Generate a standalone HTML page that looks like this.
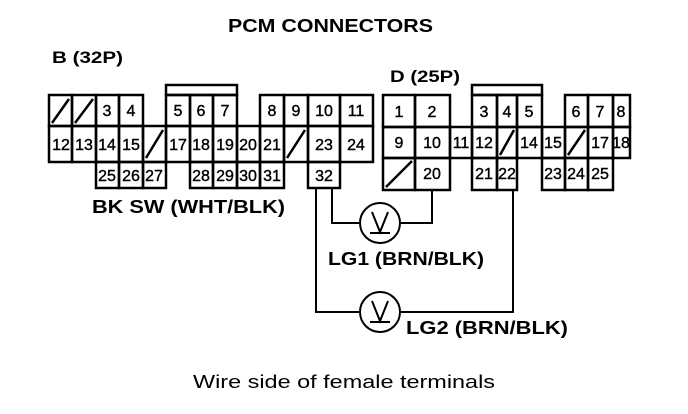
<!DOCTYPE html>
<html><head><meta charset="utf-8"><style>
html,body{margin:0;padding:0;background:#fff;}
svg{display:block;}
text{font-family:"Liberation Sans",Arial,sans-serif;fill:#000;}
.n{font-size:16px;text-anchor:middle;stroke:#000;stroke-width:0.4;}
.b{font-weight:bold;}
</style></head><body>
<svg width="688" height="414" viewBox="0 0 688 414" xmlns="http://www.w3.org/2000/svg">
<g fill="none" stroke="#000" stroke-width="2.5">
<rect x="49" y="95" width="23" height="31"/><rect x="72" y="95" width="24" height="31"/>
<rect x="96" y="95" width="23" height="31"/><rect x="119" y="95" width="24" height="31"/>
<rect x="166" y="85" width="71" height="10"/>
<rect x="166" y="95" width="24" height="31"/><rect x="190" y="95" width="23" height="31"/><rect x="213" y="95" width="24" height="31"/>
<rect x="260" y="95" width="24" height="31"/><rect x="284" y="95" width="24" height="31"/><rect x="308" y="95" width="32" height="31"/><rect x="340" y="95" width="33" height="31"/>
<rect x="49" y="126" width="23" height="36"/><rect x="72" y="126" width="24" height="36"/><rect x="96" y="126" width="23" height="36"/><rect x="119" y="126" width="24" height="36"/><rect x="143" y="126" width="23" height="36"/><rect x="166" y="126" width="24" height="36"/><rect x="190" y="126" width="23" height="36"/><rect x="213" y="126" width="24" height="36"/><rect x="237" y="126" width="23" height="36"/><rect x="260" y="126" width="24" height="36"/><rect x="284" y="126" width="24" height="36"/><rect x="308" y="126" width="32" height="36"/><rect x="340" y="126" width="33" height="36"/>
<rect x="96" y="162" width="23" height="26"/><rect x="119" y="162" width="24" height="26"/><rect x="143" y="162" width="23" height="26"/>
<rect x="190" y="162" width="23" height="26"/><rect x="213" y="162" width="24" height="26"/><rect x="237" y="162" width="23" height="26"/><rect x="260" y="162" width="24" height="26"/>
<rect x="308" y="162" width="32" height="26"/>
<line x1="52" y1="123" x2="69" y2="99"/><line x1="75" y1="123" x2="93" y2="99"/>
<line x1="146" y1="158" x2="163" y2="130"/><line x1="287" y1="158" x2="305" y2="130"/>
<rect x="383" y="95" width="32" height="32"/><rect x="415" y="95" width="35" height="32"/>
<rect x="472" y="85" width="70" height="10"/>
<rect x="472" y="95" width="25" height="32"/><rect x="497" y="95" width="20" height="32"/><rect x="517" y="95" width="25" height="32"/>
<rect x="565" y="95" width="23" height="32"/><rect x="588" y="95" width="25" height="32"/><rect x="613" y="95" width="17" height="32"/>
<rect x="383" y="127" width="32" height="31"/><rect x="415" y="127" width="35" height="31"/><rect x="450" y="127" width="22" height="31"/><rect x="472" y="127" width="25" height="31"/><rect x="497" y="127" width="20" height="31"/><rect x="517" y="127" width="25" height="31"/><rect x="542" y="127" width="23" height="31"/><rect x="565" y="127" width="23" height="31"/><rect x="588" y="127" width="25" height="31"/><rect x="613" y="127" width="17" height="31"/>
<rect x="383" y="158" width="32" height="32"/><rect x="415" y="158" width="35" height="32"/>
<rect x="472" y="158" width="25" height="32"/><rect x="497" y="158" width="20" height="32"/>
<rect x="542" y="158" width="23" height="32"/><rect x="565" y="158" width="23" height="32"/><rect x="588" y="158" width="25" height="32"/>
<line x1="386" y1="187" x2="412" y2="161"/><line x1="500" y1="155" x2="514" y2="130"/><line x1="568" y1="155" x2="585" y2="130"/>
</g>
<g fill="none" stroke="#000" stroke-width="2">
<polyline points="316,188 316,312 360,312"/>
<polyline points="400,312 513,312 513,190"/>
<polyline points="332,188 332,223 360,223"/>
<polyline points="400,223 432,223 432,190"/>
<circle cx="380" cy="223" r="20"/><circle cx="380" cy="312" r="20"/>
<polyline points="372,212 380,232 388,212"/><line x1="370" y1="233" x2="390" y2="233"/>
<polyline points="372,301 380,321 388,301"/><line x1="370" y1="322" x2="390" y2="322"/>
</g>
<g class="n">
<text x="107" y="116">3</text><text x="131" y="116">4</text>
<text x="178" y="116">5</text><text x="201" y="116">6</text><text x="225" y="116">7</text>
<text x="272" y="116">8</text><text x="296" y="116">9</text><text x="324" y="116">10</text><text x="356" y="116">11</text>
<text x="61" y="150">12</text><text x="84" y="150">13</text><text x="107" y="150">14</text><text x="131" y="150">15</text><text x="178" y="150">17</text><text x="201" y="150">18</text><text x="225" y="150">19</text><text x="248" y="150">20</text><text x="272" y="150">21</text><text x="324" y="150">23</text><text x="356" y="150">24</text>
<text x="107" y="181">25</text><text x="131" y="181">26</text><text x="154" y="181">27</text>
<text x="201" y="181">28</text><text x="225" y="181">29</text><text x="248" y="181">30</text><text x="272" y="181">31</text><text x="324" y="181">32</text>
<text x="399" y="117">1</text><text x="432" y="117">2</text>
<text x="484" y="117">3</text><text x="507" y="117">4</text><text x="529" y="117">5</text>
<text x="576" y="117">6</text><text x="600" y="117">7</text><text x="621" y="117">8</text>
<text x="399" y="148">9</text><text x="432" y="148">10</text><text x="461" y="148">11</text><text x="484" y="148">12</text><text x="529" y="148">14</text><text x="553" y="148">15</text><text x="600" y="148">17</text><text x="621" y="148">18</text>
<text x="432" y="179">20</text><text x="484" y="179">21</text><text x="507" y="179">22</text>
<text x="553" y="179">23</text><text x="576" y="179">24</text><text x="600" y="179">25</text>
</g>
<text class="b" x="228" y="32" font-size="18" textLength="205" lengthAdjust="spacingAndGlyphs">PCM CONNECTORS</text>
<text class="b" x="52" y="63" font-size="17" textLength="71" lengthAdjust="spacingAndGlyphs">B (32P)</text>
<text class="b" x="390" y="82" font-size="17" textLength="70" lengthAdjust="spacingAndGlyphs">D (25P)</text>
<text class="b" x="92" y="213" font-size="18" textLength="193" lengthAdjust="spacingAndGlyphs">BK SW (WHT/BLK)</text>
<text class="b" x="328" y="265" font-size="18" textLength="156" lengthAdjust="spacingAndGlyphs">LG1 (BRN/BLK)</text>
<text class="b" x="406" y="334" font-size="18" textLength="162" lengthAdjust="spacingAndGlyphs">LG2 (BRN/BLK)</text>
<text x="193" y="388" font-size="18" textLength="302" lengthAdjust="spacingAndGlyphs">Wire side of female terminals</text>
</svg>
</body></html>
